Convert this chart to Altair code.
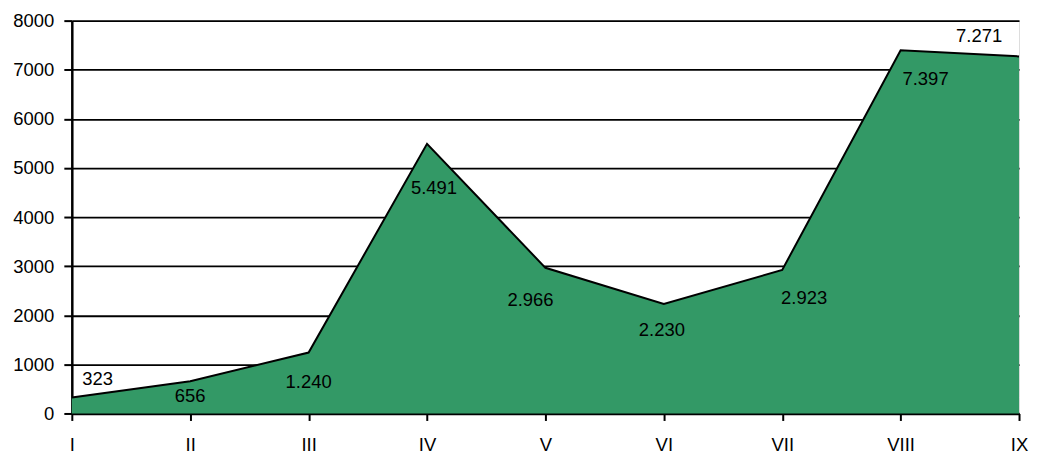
import altair as alt
import pandas as pd

categories = ["I", "II", "III", "IV", "V", "VI", "VII", "VIII", "IX"]
values = [323, 656, 1240, 5491, 2966, 2230, 2923, 7397, 7271]
labels = ["323", "656", "1.240", "5.491", "2.966", "2.230", "2.923", "7.397", "7.271"]

# label placement offsets (pixels), relative to each point
label_offsets = {
    "I": (26, -19), "II": (0, 15), "III": (0, 30), "IV": (7, 44),
    "V": (-15, 32), "VI": (-2, 26), "VII": (22, 28), "VIII": (25, 29),
    "IX": (-40, -20),
}

df = pd.DataFrame({"cat": categories, "value": values, "label": labels})

FONT = "Liberation Sans"
FS = 18.5

x_enc = alt.X("cat:O", sort=categories, title=None,
              scale=alt.Scale(type="point", padding=0),
              axis=alt.Axis(labelAngle=0, labelFontSize=FS, labelFont=FONT,
                            labelColor="black", domainColor="black", domainWidth=2.5,
                            tickColor="black", tickWidth=2, tickSize=7,
                            labelPadding=15, grid=False))
y_enc = alt.Y("value:Q", title=None,
              scale=alt.Scale(domain=[0, 8000], nice=False),
              axis=alt.Axis(values=list(range(0, 8001, 1000)), format="d",
                            labelFontSize=FS,
                            labelFont=FONT, labelColor="black", domainColor="black",
                            domainWidth=2.5, tickColor="black", tickWidth=2, tickSize=8,
                            labelPadding=10, grid=True, gridColor="black",
                            gridWidth=1.8, gridOpacity=1))

area = alt.Chart(df).mark_area(
    color="#339966", opacity=1, interpolate="linear",
    line={"color": "black", "strokeWidth": 2},
).encode(x=x_enc, y=y_enc)

layers = [area]
for cat, (dx, dy) in label_offsets.items():
    t = alt.Chart(df).transform_filter(alt.datum.cat == cat).mark_text(
        font=FONT, fontSize=FS, color="black", dx=dx, dy=dy, align="center",
        baseline="middle",
    ).encode(x=alt.X("cat:O", sort=categories), y=alt.Y("value:Q"), text="label:N")
    layers.append(t)

chart = alt.layer(*layers).properties(
    width=950, height=394,
    autosize=alt.AutoSizeParams(type="none"),
    padding={"left": 64, "top": 12, "right": 10, "bottom": 40},
).configure_view(stroke="black", strokeWidth=2).configure(background="white")

chart.save("out.html", embed_options={"renderer": "svg", "actions": False})
